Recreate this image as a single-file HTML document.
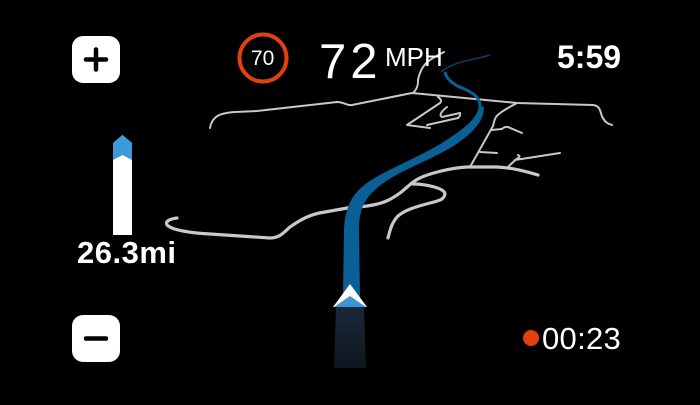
<!DOCTYPE html>
<html><head><meta charset="utf-8"><style>
html,body{margin:0;padding:0;background:#000;}
body{width:700px;height:405px;overflow:hidden;position:relative;font-family:"Liberation Sans",sans-serif;color:#fff;}
.t{position:absolute;white-space:nowrap;line-height:1;}
</style></head><body>
<svg width="700" height="405" style="position:absolute;left:0;top:0">
<defs>
<linearGradient id="tail" x1="0" y1="0" x2="0" y2="1">
<stop offset="0" stop-color="#1a2838"/><stop offset="1" stop-color="#0e1720"/>
</linearGradient>
</defs>
<g fill="none" stroke="#c8c8c8" stroke-width="2" stroke-linecap="round" stroke-linejoin="round">
<path d="M210,128 C212,116 220,113 235,112 L257,111 L337,102 C345,102 346,106 352,105 L412,93 L517,103 L593,105 C602,106 600,115 603,118 C606,124 610,124 612,125"/>
<path d="M413,93 C418,88 418,84 418,80 C420,70 424,64 430,60 C436,56 440,54 444,52"/>
<path d="M438,97 C441,99 442,101 440,103 L407,125 L430,128"/>
<path d="M447,107 C443,110 438,115 442,117 L460,113 C461,116 459,117 458,118 L427,125"/>
<path d="M517,103 C508,108 500,112 496,117 C494,120 494,123 493,126 L470,167"/>
<path d="M492,130 L502,129 C505,126 507,127 508,127 L522,133"/>
<path d="M480,152 L497,153"/>
<path d="M508,167 C512,163 515,160 518,158 C520,157 520,156 518,155 M515,160 L560,153"/>
</g>
<g fill="none" stroke="#c8c8c8" stroke-width="3.2" stroke-linecap="round" stroke-linejoin="round">
<path d="M177,218 C170,219 165,221 167,225 C172,230 190,233 210,234 L270,238 C280,238 284,232 290,227 C300,220 310,214 325,212 L353,207 C362,207 368,206 373,205 C385,203 393,198 400,193 C407,188 412,181 422,177 C432,173 450,168 467,167 L497,167 C515,168 528,172 538,175"/>
<path d="M413,184 C425,184 445,188 445,194 C444,200 438,201 430,203 C415,207 405,210 398,216 C392,222 390,230 388,238"/>
</g>
<path d="M334,368 L336,307 L364,307 L366,368 Z" fill="url(#tail)"/>
<path d="M441,72 C448,66 460,62 470,60 C478,58 484,57 490,55" fill="none" stroke="#123a5c" stroke-width="1.5"/>
<path d="M350,295 L351,225 C352,205 360,190 380,178 C400,166 430,155 450,143 C470,130 480,118 480,106 C480,97 472,92 462,88 C452,84 446,78 445,72" fill="none" stroke="#0a6096" stroke-width="3"/>
<path d="M343,297 L344,230 C345,200 358,187 378,176 C400,164 425,154 445,141 C465,128 478,118 479,105 L484,107 C484,122 472,134 452,147 C430,160 402,170 385,182 C366,195 359,207 359,230 L360,297 Z" fill="#0a5f96"/>
<path d="M333,307 L350,284 L367,307 Z" fill="#fff"/>
<path d="M334,307 L350,296 L366,307 Z" fill="#3e95d6"/>
<circle cx="263" cy="58" r="23.5" fill="none" stroke="#e2400f" stroke-width="4"/>
<path d="M113,143 L122.5,135 L132,143 L132,235 L113,235 Z" fill="#fff"/>
<path d="M113,143 L122.5,135 L132,143 L132,160 L122.5,155 L113,160 Z" fill="#3d9ad8"/>
<rect x="72" y="36" width="48" height="47" rx="11" fill="#fff"/>
<path d="M86,59.5 L106,59.5 M96,49.5 L96,69.5" stroke="#000" stroke-width="4.5" stroke-linecap="round"/>
<rect x="72" y="315" width="48" height="47" rx="11" fill="#fff"/>
<path d="M86,338.5 L106,338.5" stroke="#000" stroke-width="4.5" stroke-linecap="round"/>
<circle cx="531" cy="338" r="8" fill="#e2400f"/>
</svg>
<div class="t" style="left:251px;top:48px;font-size:21px;">70</div>
<div class="t" style="left:319px;top:38px;font-size:49px;letter-spacing:4px;">72</div>
<div class="t" style="left:385px;top:44px;font-size:26px;">MPH</div>
<div class="t" style="left:557px;top:41px;font-size:32px;font-weight:bold;">5:59</div>
<div class="t" style="left:77px;top:237px;font-size:31px;font-weight:bold;letter-spacing:0.5px;">26.3mi</div>
<div class="t" style="left:542px;top:323px;font-size:31px;letter-spacing:0.3px;">00:23</div>
</body></html>
